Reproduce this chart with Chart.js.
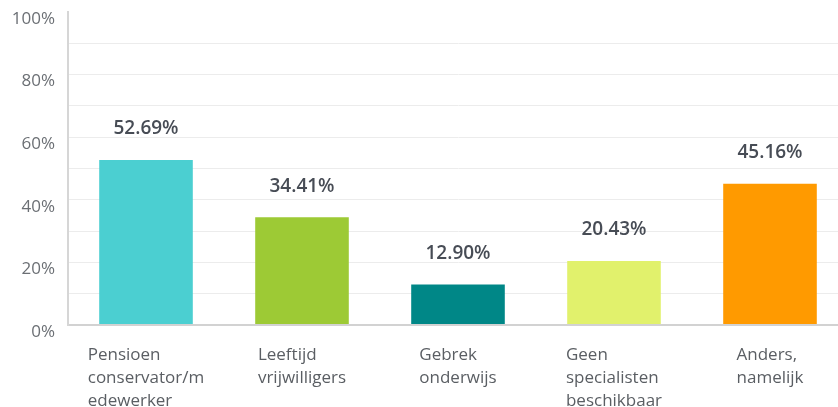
<!DOCTYPE html>
<html>
<head>
<meta charset="utf-8">
<script src="https://cdn.jsdelivr.net/npm/chart.js@4.4.1/dist/chart.umd.min.js"></script>
<style>
  html, body { margin: 0; padding: 0; background: #fff; overflow: hidden; }
  #wrap { width: 848px; height: 407px; }
</style>
</head>
<body>
<div id="wrap"><canvas id="chart"></canvas></div>
<script>
const categories = [
    ['Pensioen', 'conservator/m', 'edewerker'],
    ['Leeftijd', 'vrijwilligers'],
    ['Gebrek', 'onderwijs'],
    ['Geen', 'specialisten', 'beschikbaar'],
    ['Anders,', 'namelijk']
];
const values = [52.69, 34.41, 12.90, 20.43, 45.16];
const barColors = ['#4bcfd1', '#9dca35', '#008787', '#e1f16c', '#ff9a00'];
const yTickStep = 10;
const yLabelStep = 20;

const labelFont = '17px "Open Sans"';

// value labels above each bar
const valueLabels = {
    id: 'valueLabels',
    afterDatasetsDraw(chart) {
        const ctx = chart.ctx;
        const meta = chart.getDatasetMeta(0);
        ctx.save();
        ctx.font = '600 19px "Open Sans"';
        ctx.fillStyle = '#474c55';
        ctx.textAlign = 'center';
        ctx.textBaseline = 'middle';
        meta.data.forEach((bar, i) => {
            ctx.fillText(values[i].toFixed(2) + '%', bar.x, bar.y - 31);
        });
        ctx.restore();
    }
};

// category labels: block centred under bar, lines left aligned
const categoryLabels = {
    id: 'categoryLabels',
    afterDraw(chart) {
        const ctx = chart.ctx;
        const xs = chart.scales.x;
        ctx.save();
        ctx.font = labelFont;
        ctx.fillStyle = '#5a5e63';
        ctx.textAlign = 'left';
        ctx.textBaseline = 'middle';
        categories.forEach((lines, i) => {
            const w = Math.max(...lines.map(l => ctx.measureText(l).width));
            const left = xs.getPixelForValue(i) - w / 2;
            lines.forEach((l, j) => {
                ctx.fillText(l, left, chart.chartArea.bottom + 30 + j * 23);
            });
        });
        ctx.restore();
    }
};

new Chart(document.getElementById('chart'), {
    type: 'bar',
    data: {
        labels: categories.map(c => c.join(' ')),
        datasets: [{
            data: values,
            backgroundColor: barColors,
            categoryPercentage: 1,
            barPercentage: 0.6
        }]
    },
    options: {
        responsive: true,
        maintainAspectRatio: false,
        animation: false,
        layout: { padding: { top: 12, bottom: 82, left: 0, right: 0 } },
        plugins: {
            legend: { display: false },
            tooltip: { enabled: false }
        },
        scales: {
            x: {
                ticks: { display: false },
                grid: { display: false, drawTicks: false },
                border: { display: false }
            },
            y: {
                min: 0,
                max: 100,
                afterFit(scale) {
                    scale.width = 68;
                    scale.paddingTop = 0;
                    scale.paddingBottom = 0;
                },
                ticks: {
                    stepSize: yTickStep,
                    autoSkip: false,
                    padding: 13,
                    labelOffset: 7,
                    color: '#6b6f74',
                    font: { family: 'Open Sans', size: 17 },
                    callback: v => v % yLabelStep === 0 ? v + '%' : ''
                },
                grid: {
                    drawTicks: false,
                    color: c => c.tick.value === 100 ? 'rgba(0,0,0,0)' : (c.tick.value === 0 ? '#d2d2d2' : '#ececec'),
                    lineWidth: c => c.tick.value === 0 ? 2 : 1
                },
                border: { color: '#d6d6d6', width: 2 }
            }
        }
    },
    plugins: [valueLabels, categoryLabels]
});
</script>
</body>
</html>
